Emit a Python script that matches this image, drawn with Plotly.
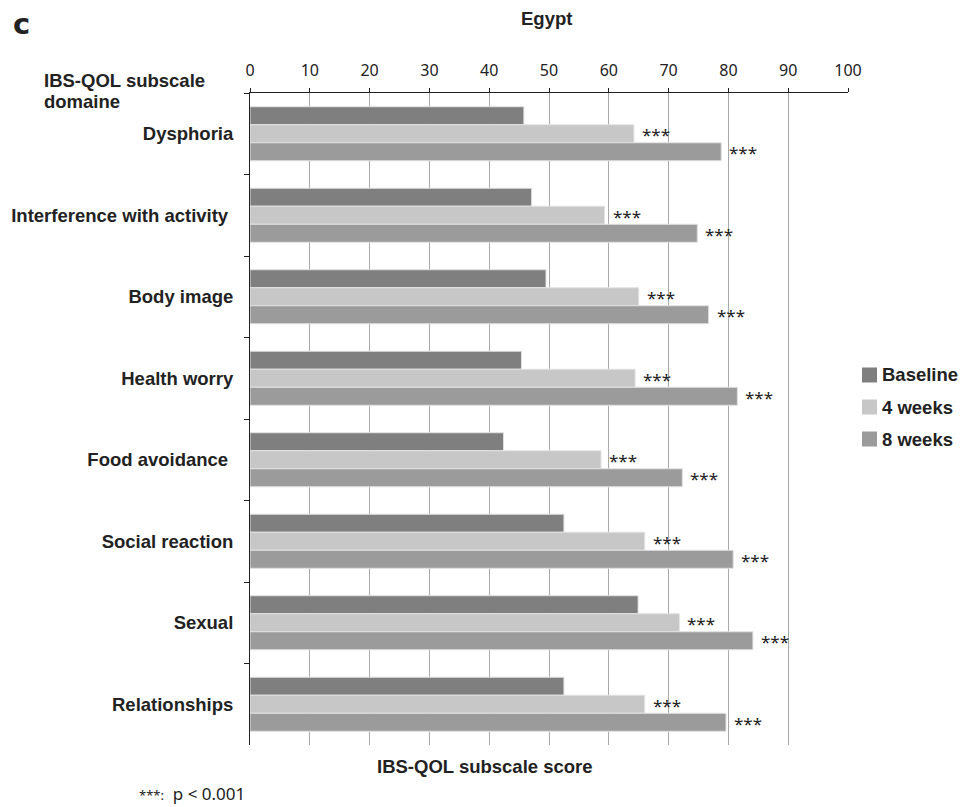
import plotly.graph_objects as go

categories = ["Dysphoria", "Interference with activity\u00a0", "Body image", "Health worry",
              "Food avoidance\u00a0", "Social reaction", "Sexual", "Relationships"]
baseline = [45.8, 47.1, 49.5, 45.4, 42.4, 52.5, 64.9, 52.5]
weeks4 = [64.2, 59.3, 65.0, 64.4, 58.7, 66.0, 71.8, 66.0]
weeks8 = [78.8, 74.8, 76.7, 81.5, 72.3, 80.8, 84.1, 79.6]
series_names = ["Baseline", "4 weeks", "8 weeks"]
x_ticks = [0, 10, 20, 30, 40, 50, 60, 70, 80, 90, 100]
sig_label = "***"

# page body has an 8px margin, so the figure is shifted by 8px
OFF = 8
W, H = 973 - OFF, 807 - OFF
L, R, T, B = 250 - OFF, 848 - OFF, 93 - OFF, 745 - OFF

ARIAL = "Arial, Liberation Sans, Helvetica, sans-serif"
MYRIAD = "Noto Sans, Open Sans, sans-serif"
FS = 18.5


def px(x):
    return (x - OFF - L) / (R - L)


def py(y):
    return (B - (y - OFF)) / (B - T)


colors = ["#7f7f7f", "#c6c7c6", "#9a9b9a"]
series = [baseline, weeks4, weeks8]
fig = go.Figure()
for i, (name, vals) in enumerate(zip(series_names, series)):
    fig.add_trace(go.Bar(
        x=vals, y=categories, orientation="h", name=name,
        marker=dict(color=colors[i], line=dict(color="#e2e2e2", width=1)),
        showlegend=False,
    ))

cat_h = (B - T) / len(categories)
bar_h = cat_h * (1 - 0.337) / 3
for i in (1, 2):
    for c, v in zip(categories, series[i]):
        fig.add_annotation(x=v, y=c, xref="x", yref="y", text=sig_label, showarrow=False,
                           xanchor="left", yanchor="middle", xshift=6,
                           yshift=-(i - 1) * bar_h - 1,
                           font=dict(family=MYRIAD, size=17, color="#222"))

fig.update_layout(
    width=W, height=H, barmode="group", bargap=0.337, bargroupgap=0,
    plot_bgcolor="white", paper_bgcolor="white",
    margin=dict(l=L, r=W - R, t=T, b=H - B, pad=0, autoexpand=False),
    font=dict(family=ARIAL, color="#222"),
    xaxis=dict(side="top", range=[0, 100], tickvals=x_ticks, showgrid=True,
               gridcolor="#a9a9a9", gridwidth=1, showline=True, linecolor="#222",
               linewidth=1, ticks="outside", ticklen=4, tickcolor="#222",
               tickfont=dict(family=MYRIAD, size=16, color="#222"),
               ticklabelstandoff=6, zeroline=False, fixedrange=True, automargin=False),
    yaxis=dict(autorange="reversed", showline=True, linecolor="#222", linewidth=1,
               ticks="outside", tickson="boundaries", ticklen=5, tickcolor="#222",
               tickfont=dict(family=ARIAL, size=FS, color="#222", weight="bold"),
               ticklabelstandoff=12, showgrid=False, fixedrange=True, automargin=False),
    showlegend=False,
)

# legend drawn as swatches + labels
legend_rows = [375, 407, 439]
for name, col, yc in zip(series_names, colors, legend_rows):
    fig.add_shape(type="rect", xref="paper", yref="paper",
                  x0=px(862), x1=px(877), y0=py(yc + 7.5), y1=py(yc - 7.5),
                  fillcolor=col, line=dict(width=0))
    fig.add_annotation(xref="paper", yref="paper", x=px(880), y=py(yc), text="<b>%s</b>" % name,
                       showarrow=False, xanchor="left", yanchor="middle",
                       font=dict(family=ARIAL, size=FS, color="#222"))

ann = [
    dict(text="<b>c</b>", x=px(11), y=py(24), xanchor="left", font=dict(family="DejaVu Sans", size=29)),
    dict(text="<b>Egypt</b>", x=px(546), y=py(18), xanchor="center", font=dict(family=ARIAL, size=FS)),
    dict(text="<b>IBS-QOL subscale</b>", x=px(42), y=py(80), xanchor="left", font=dict(family=ARIAL, size=FS)),
    dict(text="<b>domaine</b>", x=px(42), y=py(101), xanchor="left", font=dict(family=ARIAL, size=FS)),
    dict(text="<b>IBS-QOL subscale score</b>", x=px(485), y=py(766), xanchor="center",
         font=dict(family=ARIAL, size=FS)),
    dict(text="<span style='font-size:13px'>" + sig_label + ":</span>  p < 0.001",
         x=px(137), y=py(793), xanchor="left", font=dict(family=MYRIAD, size=17)),
]
for a in ann:
    fig.add_annotation(xref="paper", yref="paper", showarrow=False, yanchor="middle", **a)

fig.write_html("out.html")
